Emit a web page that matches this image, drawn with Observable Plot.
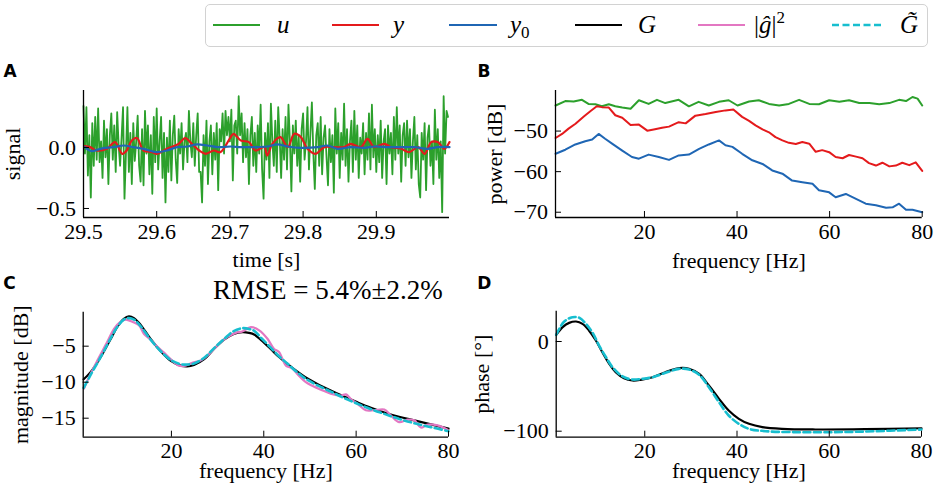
<!DOCTYPE html>
<html><head><meta charset="utf-8">
<script src="https://cdn.jsdelivr.net/npm/d3@7"></script>
<script src="https://cdn.jsdelivr.net/npm/@observablehq/plot@0.6"></script>
<style>
body{margin:0;background:#fff;}
#fig{position:relative;width:935px;height:494px;overflow:hidden;font-family:"Liberation Serif",serif;background:#fff;}
#fig svg{font-family:"Liberation Serif",serif !important;font-size:22px !important;overflow:visible !important;background:transparent !important;max-width:none !important;color:#000;}
.panel{position:absolute;}
#legend{position:absolute;left:205px;top:4px;width:723px;height:43px;box-sizing:border-box;border:1.3px solid #d2d2d2;border-radius:5px;}
.sw{position:absolute;}
.lab{position:absolute;top:12px;font-size:25px;line-height:25px;white-space:nowrap;color:#000;}
.lab i{font-style:italic;}
</style></head>
<body><div id="fig"><div id="legend"></div></div>
<script>
// ---------------- DATA ----------------
// Panel A: time signals
const T0 = 29.5, DT = 0.002;           // sample start and interval of u
const uV = [
 0.34,-0.05,0.33,-0.23,0.10,-0.41,0.20,-0.15,0.25,-0.10,
 0.32,-0.12,0.05,-0.25,0.22,-0.08,0.15,-0.30,0.10,0.28,
 -0.10,0.18,-0.20,0.29,0.02,-0.15,0.08,0.33,-0.42,-0.05,
 0.33,-0.20,0.12,-0.30,0.20,-0.11,0.05,0.26,-0.15,-0.28,
 0.15,-0.31,0.30,-0.05,0.18,-0.22,0.10,-0.38,0.25,-0.12,
 0.32,-0.18,0.05,0.25,-0.25,0.12,-0.45,0.08,-0.20,0.22,
 -0.27,0.10,0.26,-0.10,-0.29,0.15,-0.05,0.20,-0.18,0.05,
 0.12,-0.12,0.30,0.05,-0.08,0.20,-0.15,0.10,0.28,-0.20,
 -0.20,-0.45,0.10,-0.15,0.22,-0.30,0.05,0.18,-0.22,0.12,
 -0.10,0.20,-0.35,0.15,0.05,0.28,-0.05,0.30,0.10,0.25,
 0.05,0.31,-0.27,0.18,0.22,-0.05,0.42,0.10,0.28,-0.12,
 0.20,-0.08,0.15,-0.30,0.10,0.25,-0.15,0.12,-0.20,0.18,
 -0.05,0.35,-0.18,-0.42,0.12,-0.10,0.20,-0.25,0.36,0.05,
 -0.15,0.22,-0.20,0.33,0.08,-0.25,0.15,-0.10,0.25,-0.18,
 0.35,0.05,-0.36,0.18,-0.05,0.22,-0.15,0.10,-0.28,0.15,
 0.28,-0.10,0.05,0.33,-0.18,0.12,0.37,-0.05,-0.34,0.10,
 0.20,-0.15,0.25,-0.22,0.08,0.18,-0.08,-0.31,0.15,-0.12,
 0.10,-0.37,0.32,-0.05,0.20,-0.25,0.12,-0.10,0.36,-0.15,
 0.15,-0.28,0.05,0.22,-0.20,0.30,-0.10,0.18,-0.25,0.08,
 -0.05,0.20,-0.22,0.12,-0.10,0.28,-0.18,0.35,-0.08,0.15,
 -0.20,0.10,-0.12,0.22,-0.25,0.05,0.15,-0.30,0.18,-0.05,
 0.12,-0.22,0.25,-0.10,0.33,-0.05,0.18,-0.28,0.10,0.20,
 -0.15,0.22,-0.08,0.15,-0.25,0.05,0.25,-0.18,0.10,-0.30,
 -0.41,0.12,-0.10,0.20,-0.35,0.08,0.18,-0.15,0.05,-0.30,
 0.31,-0.10,0.15,-0.25,0.05,-0.53,0.42,-0.05,0.30,0.25
];
const yT = [29.502,29.509,29.518,29.532,29.543,29.553,29.559,29.566,29.573,29.582,29.594,29.600,29.614,29.630,29.639,29.648,29.658,29.667,29.678,29.687,29.701,29.705,29.715,29.726,29.735,29.747,29.751,29.758,29.769,29.779,29.788,29.797,29.806,29.817,29.829,29.842,29.856,29.865,29.879,29.888,29.897,29.911,29.920,29.934,29.945,29.957,29.966,29.975,29.984,29.993,30.000];
const yV = [0.011,0.003,-0.025,-0.011,0.044,-0.052,-0.025,0.057,0.077,-0.025,-0.038,-0.052,-0.011,0.030,0.077,0.030,-0.025,-0.052,-0.025,-0.038,0.085,0.112,0.057,0.044,-0.025,0.003,-0.066,0.030,0.085,0.003,0.112,0.085,-0.011,-0.052,0.003,0.003,0.003,0.030,0.003,0.071,0.003,0.030,0.003,-0.011,-0.038,0.003,-0.052,0.044,0.044,-0.011,0.044];
const y0T = [29.502,29.511,29.523,29.541,29.555,29.568,29.582,29.600,29.614,29.628,29.642,29.655,29.669,29.683,29.701,29.715,29.733,29.751,29.765,29.779,29.797,29.820,29.833,29.847,29.865,29.884,29.897,29.916,29.934,29.952,29.970,29.984,30.000];
const y0V = [0.003,-0.030,-0.011,0.003,0.016,0.003,-0.011,-0.038,-0.025,0.003,0.008,0.025,0.016,0.003,0.008,0.003,0.003,0.008,0.025,0.008,-0.003,0.003,0.016,-0.011,0.003,-0.003,0.008,0.003,0.003,0.003,-0.011,0.003,0.003];

// Panel B: power spectra [dB]
const uPF = [0.8,2.9,4.7,6.5,7.9,9.4,10.8,12.3,13.7,15.2,17.0,18.8,20.9,22.7,24.5,27.4,29.6,31.7,33.9,36.1,38.2,40.1,42.6,44.7,46.9,49.1,51.2,53.4,55.6,57.7,59.9,62.1,64.2,66.4,68.6,70.7,72.9,75.0,76.5,77.9,79.0,80.0];
const uPV = [-43.7,-42.6,-42.7,-42.3,-43.3,-43.4,-43.9,-43.4,-43.9,-44.2,-44.5,-42.4,-43.3,-42.3,-43.1,-42.3,-43.9,-42.8,-43.7,-42.8,-42.4,-43.7,-42.7,-42.4,-43.3,-43.7,-43.3,-42.3,-43.3,-43.4,-42.4,-42.8,-42.4,-43.1,-43.1,-43.4,-43.1,-42.3,-42.6,-41.6,-42.0,-43.7];
const yPF = [0.8,2.2,3.6,5.1,6.9,8.3,9.7,10.8,12.3,13.7,15.2,17.0,18.8,20.6,22.0,23.8,25.3,27.4,28.9,31.0,33.2,35.4,37.5,39.2,41.1,42.6,44.0,45.5,46.9,48.3,49.8,51.2,52.7,54.1,55.6,57.0,58.4,59.9,61.3,62.8,64.2,65.7,67.1,68.5,70.0,71.4,72.9,74.3,75.7,77.2,78.6,80.0];
const yPV = [-51.7,-50.7,-49.4,-48.2,-46.4,-45.1,-43.9,-44.1,-44.2,-46.1,-46.7,-48.5,-48.4,-49.9,-49.6,-49.2,-48.9,-47.8,-48.1,-46.2,-45.8,-45.3,-44.9,-44.7,-46.5,-47.5,-48.6,-49.6,-50.3,-51.5,-52.3,-52.9,-53.2,-52.7,-53.1,-55.1,-54.7,-55.2,-56.4,-56.7,-55.9,-56.3,-56.7,-57.9,-58.5,-57.8,-58.7,-58.5,-57.8,-58.4,-57.7,-59.8];
const y0PF = [0.8,2.9,5.06,7.2,8.7,10.1,11.5,13.0,15.2,17.3,18.8,20.9,23.1,25.3,27.4,29.6,31.8,33.9,36.1,37.5,39.0,41.1,43.3,45.5,47.6,49.8,51.9,54.1,56.3,57.7,59.9,61.3,63.5,65.7,67.8,70.0,72.2,73.6,75.0,76.5,77.9,80.0];
const y0PV = [-55.6,-54.6,-53.3,-52.5,-52.1,-50.7,-51.9,-53.1,-54.8,-56.4,-56.8,-55.8,-56.4,-57.1,-56.0,-55.8,-54.4,-53.3,-52.3,-53.5,-53.9,-55.6,-57.2,-58.1,-59.7,-60.5,-62.2,-62.6,-63.0,-64.6,-65.1,-66.3,-65.5,-66.7,-67.9,-68.3,-68.9,-68.8,-67.9,-69.4,-69.4,-70.0];

// Panel C: magnitude [dB]
const GmF  = [1.0,2.5,4.7,6.85,8.3,9.7,10.8,11.9,13.3,15.5,17.7,19.8,22.0,23.4,24.9,27.1,29.2,31.4,33.5,35.4,36.8,38.0,39.5,41.5,43.3,45.1,47.0,49.0,51.5,54.5,57.4,60.3,63.2,66.1,69.3,72.6,76.2,80.0];
const GmV  = [-9.6,-8.6,-6.5,-4.0,-2.3,-1.2,-0.85,-1.1,-2.0,-4.0,-5.7,-7.0,-7.7,-7.8,-7.6,-6.8,-5.4,-4.1,-3.3,-3.05,-3.15,-3.4,-4.2,-5.4,-6.5,-7.45,-8.4,-9.3,-10.2,-11.15,-12.0,-12.8,-13.55,-14.2,-14.8,-15.3,-15.85,-16.45];
const GtmV = [-10.8,-9.0,-6.5,-3.9,-2.3,-1.3,-1.1,-1.3,-2.2,-4.1,-5.7,-6.9,-7.5,-7.55,-7.4,-6.6,-5.3,-4.0,-2.9,-2.5,-2.6,-2.9,-3.9,-5.2,-6.4,-7.4,-8.5,-9.5,-10.4,-11.3,-12.2,-13.0,-13.75,-14.4,-15.1,-15.7,-16.25,-16.8];
const gF = [1.07,2.15,3.96,6.12,7.57,9.01,10.09,11.54,12.98,14.07,15.51,16.96,18.40,19.84,21.65,23.09,24.53,26.34,28.14,29.95,32.11,33.92,35.36,37.2,39.0,40.8,42.2,43.3,44.8,46.2,47.6,49.1,50.5,52.4,54.5,56.7,57.8,58.8,60.3,62.1,63.9,66.1,67.5,69.3,71.1,72.6,74.0,75.5,77.6,79.8];
const gV = [-10.9,-9.3,-7.0,-4.4,-2.6,-1.6,-1.3,-1.6,-2.1,-3.3,-4.1,-5.1,-5.9,-6.8,-7.7,-7.7,-7.3,-7.0,-6.1,-4.9,-3.75,-3.15,-2.96,-2.36,-2.8,-3.97,-5.36,-5.8,-7.7,-8.1,-9.1,-10.0,-10.5,-11.05,-11.6,-11.85,-11.7,-12.3,-13.0,-13.9,-13.9,-13.8,-14.6,-15.55,-15.2,-15.3,-16.3,-15.9,-16.0,-16.6];

// Panel D: phase [deg]
const GpF = [0.8,2.2,3.6,5.1,6.5,7.9,9.4,10.8,12.3,13.7,15.5,17.3,19.1,21.7,24.5,26.7,28.2,29.6,31.8,33.9,36.1,38.2,40.4,42.6,45.5,49.8,57.0,67.8,80.0];
const GpV = [7.4,16,20.8,22.3,19.7,12.3,1.1,-11.9,-24.9,-34.2,-40.9,-43.5,-42.8,-39.8,-34.2,-30.5,-29.4,-30.5,-36.1,-49.1,-63.9,-77.0,-86.2,-91.8,-95.5,-97.4,-98.1,-97.8,-96.7];
const GtpF = [0.8,2.5,4.3,5.8,7.2,8.7,10.1,11.6,13.0,15.2,17.3,19.5,21.7,24.5,27.4,29.6,31.8,33.9,36.1,38.2,40.4,42.6,46.2,53.4,60.6,67.8,80.0];
const GtpV = [7.5,22,27,26.5,20,9.7,-4.5,-17.5,-28.6,-39.0,-42.4,-41.6,-39.8,-34.9,-30.5,-31.2,-37.2,-50.9,-67.7,-82.5,-91.8,-97.4,-100,-101.1,-101.1,-100.4,-98.1];

// Tick values
const ticksA_x = [29.5,29.6,29.7,29.8,29.9], ticksA_y = [-0.5,0.0];
const ticksF = [20,40,60,80];
const ticksB_y = [-50,-60,-70], ticksC_y = [-5,-10,-15], ticksD_y = [0,-100];

// ---------------- STYLE ----------------
const COL = {u:"#2ca02c", y:"#e41a1c", y0:"#1f66b4", G:"#000000", g:"#e377c2", Gt:"#17becf"};
const SERIF = "Liberation Serif";
const zip = (xs, ys) => xs.map((x,i)=>({x, y: ys[i]}));

function frameAxes(xd, yd, xt, yt, xf, yf) {
  return [
    Plot.ruleX([xd[0]], {stroke:"#000", strokeWidth:1.3}),
    Plot.ruleY([yd[0]], {stroke:"#000", strokeWidth:1.3}),
    Plot.axisX({ticks: xt, tickFormat: xf, tickSize: -6, tickPadding: 11.5, label: null, fontSize: 22, fontFamily: SERIF}),
    Plot.axisY({ticks: yt, tickFormat: yf, tickSize: -6, tickPadding: 13.5, label: null, fontSize: 22, fontFamily: SERIF})
  ];
}
function letter(s, dx, dy) {
  return Plot.text([s], {text: d=>d, frameAnchor:"top-left", textAnchor:"start", lineAnchor:"middle", dx, dy,
    fontFamily:"DejaVu Sans", fontWeight:"bold", fontSize:17});
}
function xTitle(s, dy) { return Plot.text([s], {text:d=>d, frameAnchor:"bottom", textAnchor:"middle", lineAnchor:"middle", dy, fontSize:22, fontFamily: SERIF}); }
function yTitle(s, dx) { return Plot.text([s], {text:d=>d, frameAnchor:"left", textAnchor:"middle", lineAnchor:"middle", dx, rotate:-90, fontSize:22, fontFamily: SERIF}); }

function panel(opts, left, top) {
  const p = Plot.plot(opts);
  const d = document.createElement("div");
  d.className = "panel";
  d.style.left = left + "px"; d.style.top = top + "px";
  d.style.width = opts.width + "px"; d.style.height = opts.height + "px";
  d.appendChild(p);
  document.getElementById("fig").appendChild(d);
}

// ---------------- PANELS ----------------
const uData = uV.map((v,i)=>({x: T0 + i*DT, y: v}));
const dA = {x:[29.5,30.0], y:[-0.574,0.467]};
panel({
  width:465, height:220, marginLeft:83, marginRight:16, marginTop:35, marginBottom:58,
  x:{domain:dA.x}, y:{domain:dA.y},
  marks:[
    Plot.line(uData, {x:"x", y:"y", stroke:COL.u, strokeWidth:1.8}),
    Plot.line(zip(yT,yV), {x:"x", y:"y", stroke:COL.y, strokeWidth:2.2, curve:"catmull-rom"}),
    Plot.line(zip(y0T,y0V), {x:"x", y:"y", stroke:COL.y0, strokeWidth:2.2, curve:"catmull-rom"}),
    ...frameAxes(dA.x, dA.y, ticksA_x, ticksA_y, d3.format(".1f"), d3.format(".1f")),
    xTitle("time [s]", 42),
    yTitle("signal", -70.5),
    letter("A", -80, -18.5)
  ]
}, 0, 55);

const dB = {x:[0.78,80], y:[-71.3,-40.0]};
panel({
  width:470, height:220, marginLeft:90, marginRight:13.3, marginTop:35, marginBottom:58,
  x:{domain:dB.x}, y:{domain:dB.y},
  marks:[
    Plot.line(zip(uPF,uPV), {x:"x", y:"y", stroke:COL.u, strokeWidth:2}),
    Plot.line(zip(yPF,yPV), {x:"x", y:"y", stroke:COL.y, strokeWidth:2}),
    Plot.line(zip(y0PF,y0PV), {x:"x", y:"y", stroke:COL.y0, strokeWidth:2}),
    ...frameAxes(dB.x, dB.y, ticksF, ticksB_y, d3.format("d"), d3.format("d")),
    xTitle("frequency [Hz]", 43),
    yTitle("power [dB]", -61),
    letter("B", -78, -19)
  ]
}, 465, 55);

const dC = {x:[0.9,80], y:[-17.64,-0.28]};
panel({
  width:465, height:224, marginLeft:82.7, marginRight:17, marginTop:41.7, marginBottom:57.3,
  x:{domain:dC.x}, y:{domain:dC.y},
  marks:[
    Plot.line(zip(GmF,GmV), {x:"x", y:"y", stroke:COL.G, strokeWidth:2.2, curve:"catmull-rom"}),
    Plot.line(zip(gF,gV), {x:"x", y:"y", stroke:COL.g, strokeWidth:2.2, curve:"catmull-rom"}),
    Plot.line(zip(GmF,GtmV), {x:"x", y:"y", stroke:COL.Gt, strokeWidth:2.6, strokeDasharray:"7,3.5", curve:"catmull-rom"}),
    ...frameAxes(dC.x, dC.y, ticksF, ticksC_y, d3.format("d"), d3.format("d")),
    xTitle("frequency [Hz]", 34),
    yTitle("magnitude [dB]", -62.7),
    Plot.text(["RMSE = 5.4%±2.2%"], {text:d=>d, frameAnchor:"top", textAnchor:"middle", lineAnchor:"middle", dx:62, dy:-22, fontSize:27, fontFamily: SERIF}),
    letter("C", -80, -29)
  ]
}, 0, 270);

const dD = {x:[0.8,80], y:[-106.7,33.8]};
panel({
  width:470, height:224, marginLeft:90.7, marginRight:14, marginTop:40.7, marginBottom:57.3,
  x:{domain:dD.x}, y:{domain:dD.y},
  marks:[
    Plot.line(zip(GpF,GpV), {x:"x", y:"y", stroke:COL.G, strokeWidth:2.2, curve:"catmull-rom"}),
    Plot.line(zip(GtpF,GtpV), {x:"x", y:"y", stroke:COL.Gt, strokeWidth:2.6, strokeDasharray:"7,3.5", curve:"catmull-rom"}),
    ...frameAxes(dD.x, dD.y, ticksF, ticksD_y, d3.format("d"), d3.format("d")),
    xTitle("frequency [Hz]", 34),
    yTitle("phase [°]", -74),
    letter("D", -79, -28)
  ]
}, 465, 270);

// ---------------- LEGEND ----------------
const legendItems = [
  {color:COL.u,  dash:null, x1:213, x2:260, lx:277, html:"<i>u</i>"},
  {color:COL.y,  dash:null, x1:332, x2:379, lx:393, html:"<i>y</i>"},
  {color:COL.y0, dash:null, x1:449, x2:497, lx:510, html:"<i>y</i><span style='font-size:17px;position:relative;top:5px'>0</span>"},
  {color:COL.G,  dash:null, x1:575, x2:622, lx:638, html:"<i>G</i>"},
  {color:COL.g,  dash:null, x1:698, x2:745, lx:754, html:"|<i>ĝ</i>|<span style='font-size:17px;position:relative;top:-10px'>2</span>"},
  {color:COL.Gt, dash:"7,3.5", x1:832, x2:882, lx:900, html:"<i>G&#771;</i>"}
];
const fig = document.getElementById("fig");
for (const it of legendItems) {
  const svg = d3.create("svg").attr("class","sw")
    .attr("width", it.x2 - it.x1).attr("height", 10)
    .style("left", it.x1 + "px").style("top", "19.5px");
  svg.append("line").attr("x1",0).attr("x2",it.x2-it.x1).attr("y1",5).attr("y2",5)
    .attr("stroke", it.color).attr("stroke-width", it.dash ? 2.6 : 2.2)
    .attr("stroke-dasharray", it.dash);
  fig.appendChild(svg.node());
  const lab = document.createElement("div");
  lab.className = "lab"; lab.style.left = it.lx + "px"; lab.innerHTML = it.html;
  fig.appendChild(lab);
}
</script></body></html>
